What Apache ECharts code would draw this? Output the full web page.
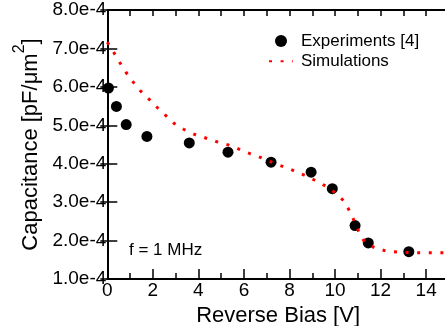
<!DOCTYPE html>
<html>
<head>
<meta charset="utf-8">
<script src="https://cdn.jsdelivr.net/npm/echarts@6/dist/echarts.min.js"></script>
<style>
html,body{margin:0;padding:0;background:#fff;overflow:hidden;width:445px;height:326px;}
#c{width:445px;height:326px;}
</style>
</head>
<body>
<div id="c"></div>
<script>
// Experiments [4]: reverse bias (V), capacitance (pF/um^2)
const expX = [0.05, 0.40, 0.83, 1.74, 3.60, 5.30, 7.19, 8.95, 9.88, 10.88, 11.46, 13.24];
const expY = [5.97e-4, 5.49e-4, 5.02e-4, 4.71e-4, 4.54e-4, 4.30e-4, 4.04e-4, 3.78e-4, 3.35e-4, 2.39e-4, 1.94e-4, 1.71e-4];
// Simulations
const simX = [0, 0.28, 0.54, 0.82, 1.13, 1.45, 1.83, 2.18, 2.56, 2.93, 3.37, 3.84, 4.32, 4.82, 5.31, 5.78, 6.27, 6.75, 7.22, 7.70, 8.18, 8.65, 9.12, 9.58, 9.99, 10.37, 10.63, 10.85, 11.05, 11.30, 11.74, 12.23, 12.74, 13.25, 13.76, 14.27, 14.79, 15];
const simY = [7.16e-4, 6.90e-4, 6.64e-4, 6.38e-4, 6.13e-4, 5.90e-4, 5.68e-4, 5.47e-4, 5.26e-4, 5.05e-4, 4.89e-4, 4.76e-4, 4.67e-4, 4.57e-4, 4.49e-4, 4.38e-4, 4.26e-4, 4.16e-4, 4.04e-4, 3.93e-4, 3.82e-4, 3.70e-4, 3.57e-4, 3.42e-4, 3.25e-4, 3.04e-4, 2.78e-4, 2.50e-4, 2.22e-4, 1.96e-4, 1.81e-4, 1.73e-4, 1.70e-4, 1.69e-4, 1.68e-4, 1.68e-4, 1.68e-4, 1.68e-4];
const xTicks = [0, 2, 4, 6, 8, 10, 12, 14];
const yTicks = ['1.0e-4','2.0e-4','3.0e-4','4.0e-4','5.0e-4','6.0e-4','7.0e-4','8.0e-4'];
const annotation = 'f = 1 MHz';

const FONT = "'Liberation Sans', Arial, Helvetica, sans-serif";
const chart = echarts.init(document.getElementById('c'), null, {renderer: 'canvas'});
const line = {lineStyle: {color: '#000', width: 2}};
chart.setOption({
  animation: false,
  grid: {left: 107.3, top: 10, width: 341.6, height: 269, containLabel: false, outerBoundsMode: 'none'},
  legend: {
    orient: 'vertical', left: 268, top: 32.5, padding: 0, itemWidth: 24, itemHeight: 12, itemGap: 3.3,
    textStyle: {fontFamily: FONT, fontSize: 17, color: '#000', padding: [0, 0, 0, 3]},
    data: [{name: 'Experiments [4]', icon: 'circle'}, {name: 'Simulations', itemStyle: {opacity: 0}}]
  },
  xAxis: [{
    type: 'value', min: 0, max: 15, interval: 2, position: 'bottom',
    name: 'Reverse Bias [V]', nameLocation: 'middle', nameGap: 20,
    nameTextStyle: {fontFamily: FONT, fontSize: 22, color: '#000'},
    axisLine: line,
    axisTick: {inside: true, length: 10, lineStyle: {color: '#000', width: 1.5}},
    minorTick: {show: true, splitNumber: 2, length: 6, lineStyle: {color: '#000', width: 1.5}},
    axisLabel: {fontFamily: FONT, fontSize: 19, color: '#000', margin: 2, showMaxLabel: false,
      formatter: v => (xTicks.indexOf(v) >= 0 ? String(v) : '')},
    splitLine: {show: false}
  }, {
    type: 'value', min: 0, max: 15, interval: 1, position: 'top',
    axisLine: line,
    axisTick: {inside: true, length: 6, lineStyle: {color: '#000', width: 1.5}},
    axisLabel: {show: false}, splitLine: {show: false}
  }],
  yAxis: [{
    type: 'value', min: 1e-4, max: 8e-4, interval: 1e-4, position: 'left',
    name: '{a|Capacitance [pF/μm}{s|2}{a|]}', nameLocation: 'middle', nameGap: 62,
    nameTextStyle: {fontFamily: FONT, color: '#000',
      rich: {
        a: {fontFamily: FONT, fontSize: 22, color: '#000', lineHeight: 30, verticalAlign: 'bottom'},
        s: {fontFamily: FONT, fontSize: 16, color: '#000', lineHeight: 30, verticalAlign: 'top'}
      }},
    axisLine: line,
    axisTick: {inside: true, length: 10, lineStyle: {color: '#000', width: 1.5}},
    axisLabel: {fontFamily: FONT, fontSize: 19, color: '#000', margin: 1,
      formatter: v => yTicks[Math.round(v * 1e4) - 1] || ''},
    splitLine: {show: false}
  }, {
    type: 'value', min: 1e-4, max: 8e-4, interval: 1e-4, position: 'right',
    axisLine: line,
    axisTick: {inside: true, length: 7, lineStyle: {color: '#000', width: 1.5}},
    axisLabel: {show: false}, splitLine: {show: false}
  }],
  graphic: [{
    type: 'text', left: 129, top: 242,
    style: {text: annotation, fontFamily: FONT, fontSize: 17, fill: '#000'}
  }],
  series: [{
    name: 'Experiments [4]', type: 'scatter', symbol: 'circle', symbolSize: 11,
    itemStyle: {color: '#000', opacity: 1}, z: 2,
    data: expX.map((x, i) => [x, expY[i]])
  }, {
    name: 'Simulations', type: 'line', symbol: 'none', z: 3,
    lineStyle: {color: '#ff0000', width: 3, type: [3, 8.6], cap: 'butt'},
    itemStyle: {color: '#ff0000'},
    data: simX.map((x, i) => [x, simY[i]])
  }]
});
</script>
</body>
</html>
